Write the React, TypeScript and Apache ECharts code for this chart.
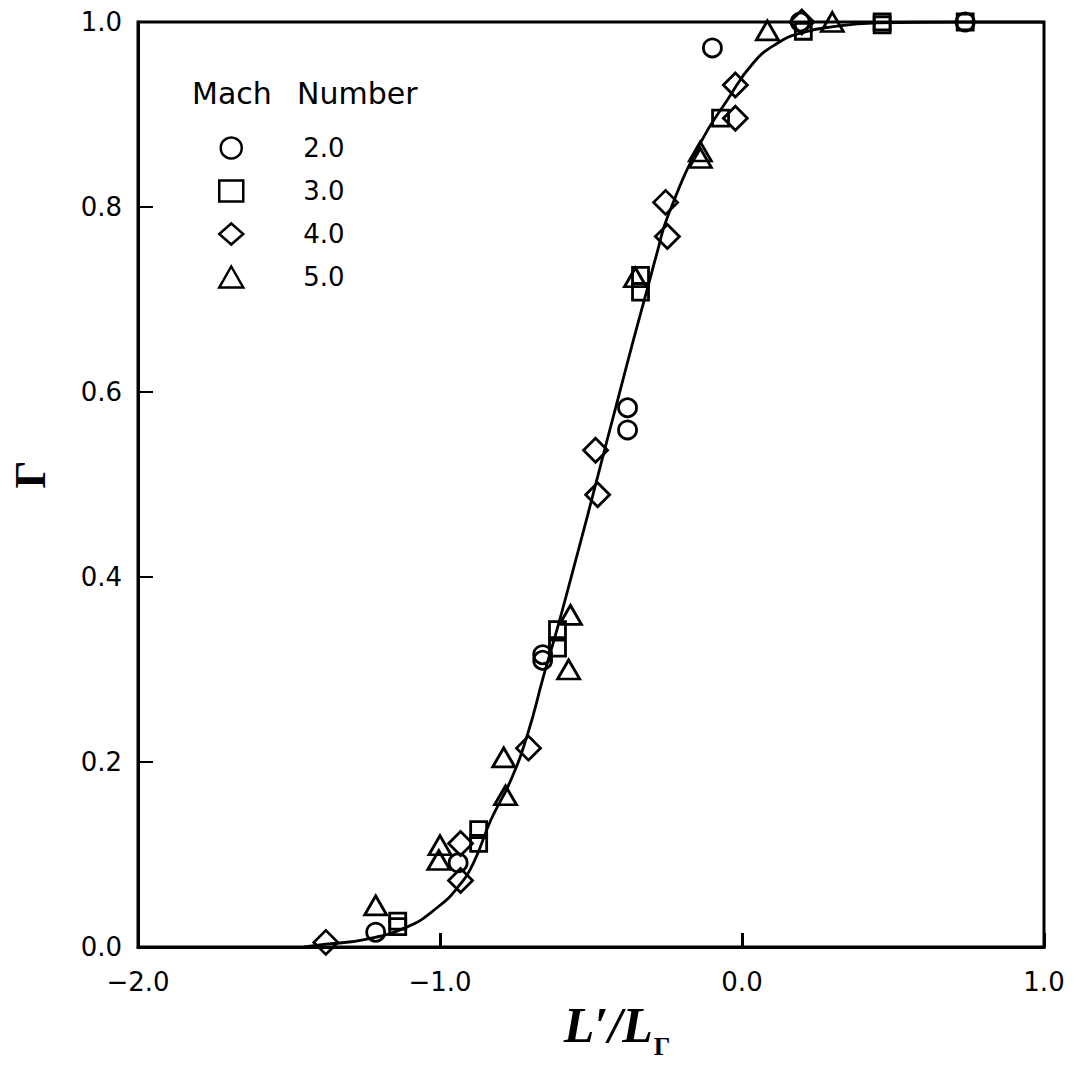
import React, { useEffect, useRef } from "react";
import * as echarts from "echarts";

// Axis ticks
const xTickValues = [-2, -1, 0, 1];
const yTickValues = [0, 0.2, 0.4, 0.6, 0.8, 1.0];

// Legend labels (Mach number)
const machLabels = ["2.0", "3.0", "4.0", "5.0"];

// Mach 2.0 (circles)
const m2X = [-1.213, -0.94, -0.66, -0.66, -0.379, -0.379, -0.098, 0.193, 0.739];
const m2Y = [0.016, 0.091, 0.316, 0.31, 0.583, 0.559, 0.972, 1.0, 1.0];

// Mach 3.0 (squares)
const m3X = [-1.14, -1.14, -0.872, -0.872, -0.611, -0.611, -0.336, -0.336, -0.071, 0.203, 0.464, 0.464, 0.739];
const m3Y = [0.022, 0.028, 0.127, 0.112, 0.343, 0.323, 0.726, 0.708, 0.896, 0.99, 1.0, 0.997, 1.0];

// Mach 4.0 (diamonds)
const m4X = [-1.378, -0.932, -0.932, -0.707, -0.485, -0.478, -0.253, -0.247, -0.022, -0.022, 0.198];
const m4Y = [0.005, 0.072, 0.112, 0.215, 0.537, 0.489, 0.805, 0.768, 0.932, 0.896, 1.0];

// Mach 5.0 (triangles)
const m5X = [-1.213, -1.0, -1.004, -0.789, -0.783, -0.574, -0.568, -0.353, -0.138, -0.138, 0.084, 0.299];
const m5Y = [0.045, 0.11, 0.094, 0.205, 0.164, 0.3, 0.359, 0.724, 0.86, 0.853, 0.991, 1.0];

// Fitted curve
const curveX = [-1.45, -1.378, -1.25, -1.107, -1.008, -0.94, -0.889, -0.832, -0.766, -0.71, -0.657, -0.611, -0.568, -0.511, -0.445, -0.412, -0.359, -0.313, -0.28, -0.247, -0.138, -0.048, 0.038, 0.117, 0.193, 0.302, 0.448, 0.7, 1.0];
const curveY = [0.0, 0.003, 0.008, 0.022, 0.043, 0.065, 0.091, 0.137, 0.18, 0.23, 0.293, 0.345, 0.397, 0.467, 0.55, 0.591, 0.657, 0.712, 0.752, 0.789, 0.869, 0.916, 0.956, 0.977, 0.988, 0.995, 0.999, 1.0, 1.0];

const zip = (xs: number[], ys: number[]) => xs.map((x, i) => [x, ys[i]]);

const fmtX = (v: number) => (v < 0 ? "\u2212" : "") + Math.abs(v).toFixed(1);
const fmtY = (v: number) => v.toFixed(1);

const markerStyle = {
  color: "rgba(0,0,0,0)",
  borderColor: "#000",
  borderWidth: 2.8,
  opacity: 1,
};

export default function App() {
  const ref = useRef<HTMLDivElement>(null);
  useEffect(() => {
    const chart = echarts.init(ref.current!, null, { renderer: "svg" });
    const sansFont = "DejaVu Sans";
    const option: any = {
      animation: false,
      backgroundColor: "#fff",
      grid: {
        left: 137,
        right: 44,
        top: 22,
        bottom: 122,
        show: true,
        borderColor: "#000",
        borderWidth: 3,
      },
      xAxis: {
        type: "value",
        position: "bottom",
        min: xTickValues[0],
        max: xTickValues[xTickValues.length - 1],
        interval: 1,
        axisLine: { show: true, onZero: false, lineStyle: { color: "#000", width: 3 } },
        axisTick: { show: true, inside: true, length: 14, lineStyle: { color: "#000", width: 3 } },
        splitLine: { show: false },
        axisLabel: {
          formatter: fmtX,
          color: "#000",
          fontFamily: sansFont,
          fontSize: 26,
          margin: 22,
        },
        name: "{a|L\u2032/L}{b|\u0393}",
        nameLocation: "middle",
        nameGap: 52,
        nameTextStyle: {
          padding: [0, 0, 0, 52],
          rich: {
            a: { fontFamily: "Liberation Serif", fontStyle: "italic", fontWeight: "bold", fontSize: 50, color: "#000", verticalAlign: "top", lineHeight: 50 },
            b: { fontFamily: "Liberation Serif", fontWeight: "bold", fontSize: 26, color: "#000", verticalAlign: "top", lineHeight: 26, padding: [34, 0, 0, 1] },
          },
        },
      },
      yAxis: {
        type: "value",
        position: "left",
        min: yTickValues[0],
        max: yTickValues[yTickValues.length - 1],
        interval: 0.2,
        axisLine: { show: true, onZero: false, lineStyle: { color: "#000", width: 3 } },
        axisTick: { show: true, inside: true, length: 15, lineStyle: { color: "#000", width: 2 } },
        splitLine: { show: false },
        axisLabel: {
          formatter: fmtY,
          color: "#000",
          fontFamily: sansFont,
          fontSize: 26,
          margin: 16,
        },
        name: "\u0393",
        nameLocation: "middle",
        nameGap: 86,
        nameTextStyle: {
          fontFamily: "Liberation Serif",
          fontWeight: "bold",
          fontSize: 44,
          color: "#000",
          padding: [0, 0, 0, 20],
        },
      },
      legend: {
        orient: "vertical",
        left: 213,
        top: 128,
        itemWidth: 24,
        itemHeight: 21,
        itemGap: 13,
        data: machLabels,
        itemStyle: { color: "rgba(0,0,0,0)", borderColor: "#000", borderWidth: 2.5, opacity: 1 },
        textStyle: {
          fontFamily: sansFont,
          fontSize: 26,
          color: "#000",
          lineHeight: 30,
          padding: [0, 0, 0, 55],
        },
      },
      graphic: [
        {
          type: "text",
          left: 192,
          top: 78,
          style: {
            text: "{a|Mach}{b|Number}",
            rich: {
              a: { width: 105, fontFamily: sansFont, fontSize: 30, fill: "#000" },
              b: { fontFamily: sansFont, fontSize: 30, fill: "#000" },
            },
          },
        },
      ],
      series: [
        {
          type: "line",
          data: zip(curveX, curveY),
          smooth: true,
          symbol: "none",
          lineStyle: { color: "#000", width: 2.8 },
          clip: true,
          silent: true,
          z: 1,
        },
        {
          name: machLabels[0],
          type: "scatter",
          symbol: "circle",
          symbolSize: 18,
          data: zip(m2X, m2Y),
          itemStyle: markerStyle,
          clip: false,
          z: 3,
        },
        {
          name: machLabels[1],
          type: "scatter",
          symbol: "rect",
          symbolSize: 16,
          data: zip(m3X, m3Y),
          itemStyle: markerStyle,
          clip: false,
          z: 3,
        },
        {
          name: machLabels[2],
          type: "scatter",
          symbol: "diamond",
          symbolSize: [24, 24],
          data: zip(m4X, m4Y),
          itemStyle: markerStyle,
          clip: false,
          z: 3,
        },
        {
          name: machLabels[3],
          type: "scatter",
          symbol: "triangle",
          symbolSize: [22, 19],
          data: zip(m5X, m5Y),
          itemStyle: markerStyle,
          clip: false,
          z: 3,
        },
      ],
    };
    chart.setOption(option);
    return () => chart.dispose();
  }, []);
  return (
    <div
      ref={ref}
      style={{ position: "fixed", left: 0, top: 0, width: 1088, height: 1069, background: "#fff" }}
    />
  );
}
